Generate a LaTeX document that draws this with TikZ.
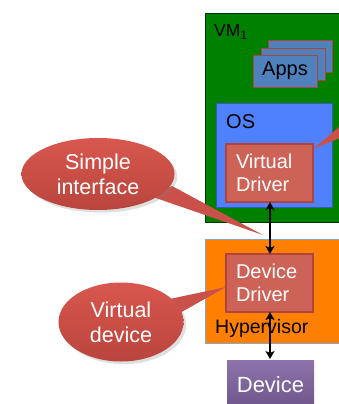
\documentclass[tikz,border=0pt]{standalone}
\usepackage{fontspec}
\setmainfont{Liberation Sans}
\usetikzlibrary{shapes.geometric,arrows.meta,shadows}
\definecolor{vmgreen}{HTML}{008000}
\definecolor{osblue}{HTML}{4F81FF}
\definecolor{appblue}{HTML}{4F81BD}
\definecolor{drvred}{HTML}{CD6257}
\definecolor{drvborder}{HTML}{B0443C}
\definecolor{hvorange}{HTML}{FF8000}
\definecolor{devpurple}{HTML}{8064A2}
\definecolor{bubtop}{HTML}{D8574E}
\definecolor{bubbot}{HTML}{B9453E}
\definecolor{tailred}{HTML}{C9514A}
\tikzset{
  box/.style={anchor=north west, inner sep=0pt, outer sep=0pt},
  appbox/.style={box, fill=appblue, draw=drvborder, line width=0.8pt, minimum width=64pt, minimum height=32pt},
  drvbox/.style={box, fill=drvred, draw=drvborder, line width=1.6pt, inner xsep=10pt, text width=67pt, minimum height=58pt,
    text=white, align=left, font=\fontsize{20}{23}\selectfont},
  bubble/.style={ellipse, top color=bubtop, bottom color=bubbot, draw=none, inner sep=0pt,
    text=white, align=center, font=\fontsize{21.5}{25}\selectfont, drop shadow={opacity=0.25}},
  tail/.style={fill=tailred, draw=none},
  link/.style={line width=1.8pt, {Stealth[length=8pt,width=9pt,inset=2pt]}-{Stealth[length=8pt,width=9pt,inset=2pt]}},
  lbl/.style={anchor=base west, inner sep=0pt, text=black},
}
\begin{document}
\begin{tikzpicture}[x=1pt,y=-1pt]
\useasboundingbox (0,0) rectangle (338,404);
% VM
\node[box, fill=vmgreen, draw=black!60!vmgreen, line width=0.6pt, minimum width=140pt, minimum height=209pt] (vm) at (205,13) {};
\node[lbl, font=\fontsize{17.5}{19}\selectfont] (vmlbl) at (214,37) {VM\textsubscript{1}};
% Apps stack
\node[appbox] (app3) at (268,40) {};
\node[appbox] (app2) at (261,48) {};
\node[appbox, font=\fontsize{20}{22}\selectfont] (app1) at (253,55) {Apps};
% OS
\node[box, fill=osblue, draw=osblue!70!black, line width=0.6pt, minimum width=116pt, minimum height=104pt] (os) at (216,103) {};
\node[lbl, font=\fontsize{20}{22}\selectfont] (oslbl) at (226,128) {OS};
\node[drvbox] (vdrv) at (226,144) {Virtual\\Driver};
% Hypervisor
\node[box, fill=hvorange, draw=appblue!70, line width=0.6pt, minimum width=140pt, minimum height=104pt] (hv) at (205,239) {};
\node[drvbox] (ddrv) at (226,254) {Device\\Driver};
\node[lbl, font=\fontsize{19.5}{21}\selectfont] (hvlbl) at (215,333) {Hypervisor};
% Device
\node[box, top color=devpurple!90!white, bottom color=devpurple!85!black, minimum width=87pt, minimum height=50pt,
  text=white, font=\fontsize{22}{24}\selectfont] (dev) at (227,360) {Device};
% arrows
\coordinate (a1) at (270,202);
\coordinate (a2) at (270,254);
\coordinate (a3) at (270,312);
\coordinate (a4) at (270,359);
\draw[link] (a1) -- (a2);
\draw[link] (a3) -- (a4);
% callouts
\coordinate (tip1) at (263,235);
\coordinate (tip2) at (226,287);
\coordinate (tip3) at (313,149);
\fill[tail] (tip3) -- (345,122) -- (345,136) -- cycle;
\fill[tail] (150,196) -- (172,186) -- (tip1) -- cycle;
\fill[tail] (165,300) -- (178,314) -- (tip2) -- cycle;
\node[bubble, minimum width=153pt, minimum height=72pt] (b1) at (98,174) {Simple\\interface};
\node[bubble, minimum width=125pt, minimum height=79pt] (b2) at (121,322) {Virtual\\device};
\end{tikzpicture}
\end{document}
